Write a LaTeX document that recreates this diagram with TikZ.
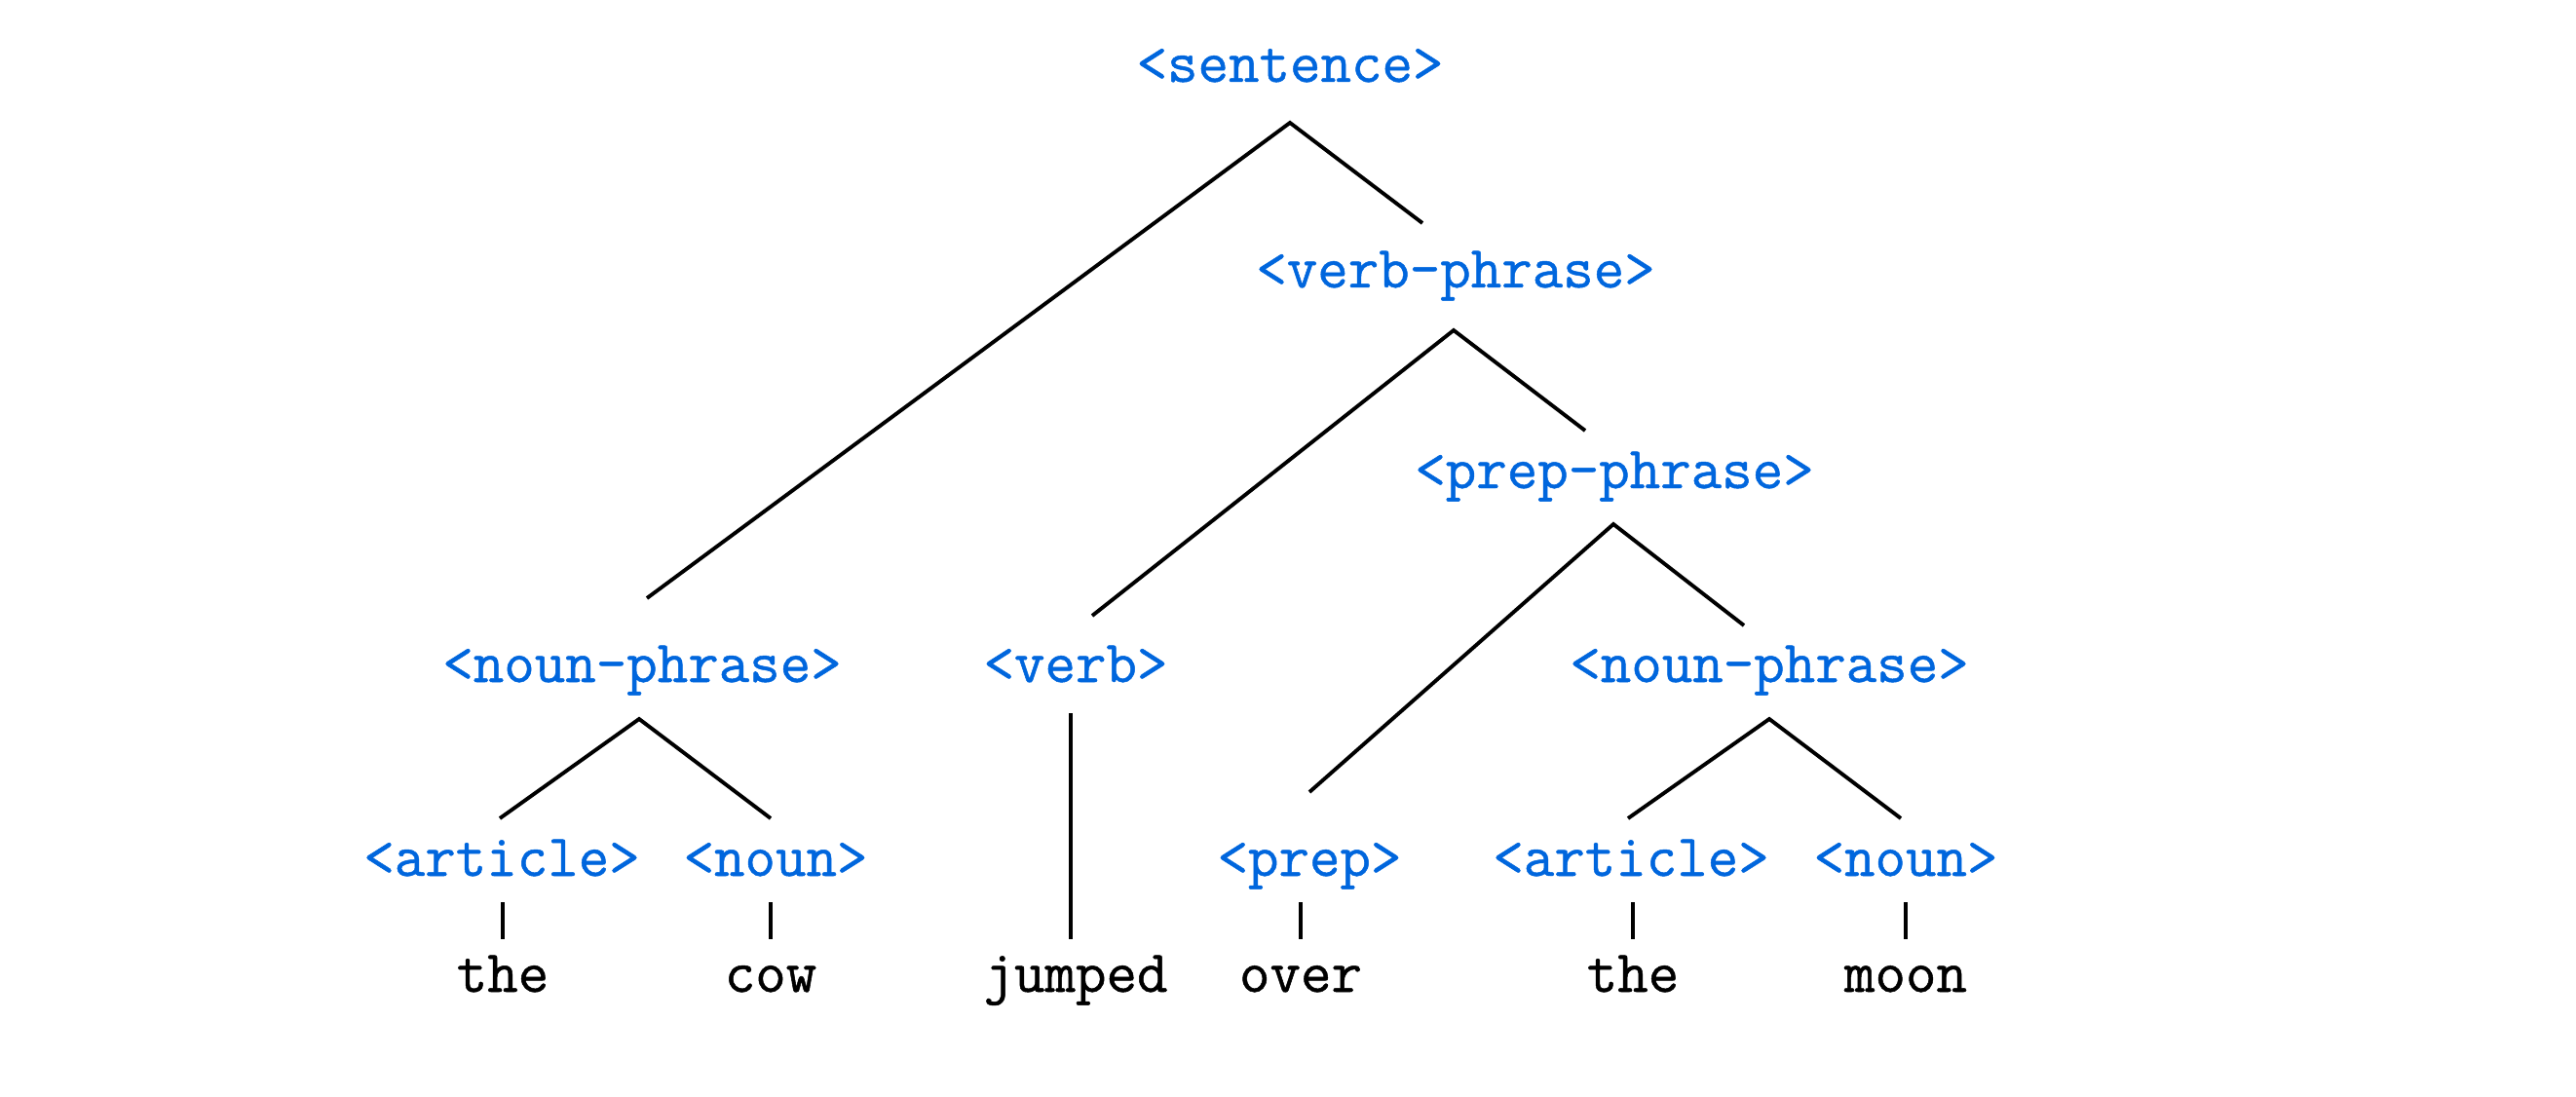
\documentclass[tikz,border=0pt]{standalone}
\usepackage{fontspec}
\newfontfamily\treefont[FakeBold=0.8]{Latin Modern Mono}
\definecolor{ntblue}{RGB}{0,102,221}
\begin{document}
\begin{tikzpicture}[x=1cm,y=1cm,
  nt/.style={text=ntblue,font=\fontsize{17.4}{20}\selectfont\treefont\bfseries,inner sep=0pt,anchor=base},
  wd/.style={text=black,font=\fontsize{17.4}{20}\selectfont\treefont\bfseries,inner sep=0pt,anchor=base},
  br/.style={line width=1.1pt,black}]
\useasboundingbox (0,0) rectangle (26.44,-11.26);
\node[nt] (sentence) at (13.24,-0.84) {<sentence>};
\node[nt] (vp) at (14.94,-2.95) {<verb-phrase>};
\node[nt] (pp) at (16.57,-5.01) {<prep-phrase>};
\node[nt] (np1) at (6.59,-7.00) {<noun-phrase>};
\node[nt] (verb) at (11.04,-7.00) {<verb>};
\node[nt] (np2) at (18.16,-7.00) {<noun-phrase>};
\node[nt] (art1) at (5.15,-8.99) {<article>};
\node[nt] (noun1) at (7.96,-8.99) {<noun>};
\node[nt] (prep) at (13.44,-8.99) {<prep>};
\node[nt] (art2) at (16.74,-8.99) {<article>};
\node[nt] (noun2) at (19.56,-8.99) {<noun>};
\node[wd] (w1) at (5.16,-10.18) {the};
\node[wd] (w2) at (7.91,-10.18) {cow};
\node[wd] (w3) at (11.04,-10.18) {jumped};
\node[wd] (w4) at (13.35,-10.18) {over};
\node[wd] (w5) at (16.76,-10.18) {the};
\node[wd] (w6) at (19.56,-10.18) {moon};
% branch points
\coordinate (s-a) at (13.24,-1.26);
\coordinate (s-l) at (6.64,-6.14);
\coordinate (s-r) at (14.60,-2.29);
\coordinate (vp-a) at (14.92,-3.39);
\coordinate (vp-l) at (11.21,-6.32);
\coordinate (vp-r) at (16.27,-4.42);
\coordinate (pp-a) at (16.56,-5.38);
\coordinate (pp-l) at (13.44,-8.13);
\coordinate (pp-r) at (17.90,-6.42);
\coordinate (np1-a) at (6.56,-7.38);
\coordinate (np1-l) at (5.13,-8.40);
\coordinate (np1-r) at (7.91,-8.40);
\coordinate (np2-a) at (18.16,-7.38);
\coordinate (np2-l) at (16.71,-8.40);
\coordinate (np2-r) at (19.51,-8.40);
\coordinate (v-t) at (10.99,-7.32);
\coordinate (v-b) at (10.99,-9.64);
\draw[br] (s-l) -- (s-a) -- (s-r);
\draw[br] (vp-l) -- (vp-a) -- (vp-r);
\draw[br] (pp-l) -- (pp-a) -- (pp-r);
\draw[br] (np1-l) -- (np1-a) -- (np1-r);
\draw[br] (np2-l) -- (np2-a) -- (np2-r);
\draw[br] (v-t) -- (v-b);
\draw[br] (w1 |- 0,-9.26) -- (w1 |- 0,-9.64);
\draw[br] (w2 |- 0,-9.26) -- (w2 |- 0,-9.64);
\draw[br] (w4 |- 0,-9.26) -- (w4 |- 0,-9.64);
\draw[br] (w5 |- 0,-9.26) -- (w5 |- 0,-9.64);
\draw[br] (w6 |- 0,-9.26) -- (w6 |- 0,-9.64);
\end{tikzpicture}
\end{document}
